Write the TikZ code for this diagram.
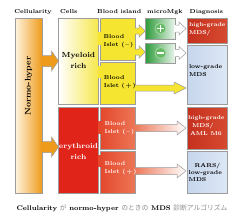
\documentclass[tikz,border=0pt]{standalone}
\usepackage{fontspec}
\newfontfamily\jpfont{Noto Sans CJK JP}
\usetikzlibrary{calc}
\definecolor{orng}{HTML}{EE9B1C}
\definecolor{orngL}{HTML}{FFF4E0}
\definecolor{ylw}{HTML}{F6E530}
\definecolor{ylwM}{HTML}{F6E84E}
\definecolor{redE}{HTML}{E0241A}
\definecolor{redI}{HTML}{E4482C}
\definecolor{redIL}{HTML}{EC7656}
\definecolor{grn}{HTML}{2E9B3A}
\definecolor{grnC}{HTML}{66BB66}
\definecolor{dred}{HTML}{C5301E}
\definecolor{dredL}{HTML}{D64A30}
\definecolor{lblue}{HTML}{C6D6EC}
\definecolor{lblueL}{HTML}{DDE7F5}
\definecolor{edge}{HTML}{9C9C9C}
\definecolor{capgray}{HTML}{8C8C8C}
\newcommand\barr[8]{%
  \coordinate (ba) at (#2.east |- 0,#4);
  \coordinate (bb) at ($(#3.west |- 0,#4)+(-#8,0)$);
  \path[#1] ($(ba)+(-1.2,-#5)$) -- ($(bb)+(-#7,-#5)$) -- ($(bb)+(-#7,-#6)$) -- (bb) -- ($(bb)+(-#7,#6)$) -- ($(bb)+(-#7,#5)$) -- ($(ba)+(-1.2,#5)$) -- cycle;
  \draw[arrline] ($(ba)+(0,-#5)$) -- ($(bb)+(-#7,-#5)$) -- ($(bb)+(-#7,-#6)$) -- (bb) -- ($(bb)+(-#7,#6)$) -- ($(bb)+(-#7,#5)$) -- ($(ba)+(0,#5)$);
}
\begin{document}
\begin{tikzpicture}[x=1bp,y=-1bp,
  box/.style={draw=edge, line width=0.5bp, inner sep=0, outer sep=0, anchor=north west, rectangle},
  arrline/.style={draw=edge, line width=0.5bp, line join=miter},
  lbl/.style={font=\fontsize{5.7}{8}\selectfont\bfseries, inner sep=0, align=left, anchor=west},
  hdr/.style={font=\fontsize{5.8}{7}\selectfont\bfseries, inner sep=0},
  big/.style={font=\fontsize{7.4}{11}\selectfont\bfseries, inner sep=0, align=center}]
\useasboundingbox (0,0) rectangle (244,221);
\fill[white] (0,0) rectangle (244,221);
% headers
\node[hdr] (h1) at (33,12) {Cellularity};
\node[hdr, anchor=west] (h2) at (60,12) {Cells};
\node[hdr, anchor=west] (h3) at (97,12) {Blood island};
\node[hdr, anchor=west] (h4) at (147,12) {microMgk};
\node[hdr, anchor=west] (h5) at (189.5,12) {Diagnosis};
% boxes
\node[box, left color=orngL, right color=orng, minimum width=27bp, minimum height=175bp] (bar) at (15,18) {};
\node[box, left color=white, right color=ylwM, minimum width=39.5bp, minimum height=86bp] (mye) at (58.5,18) {};
\node[box, fill=redE, minimum width=39.5bp, minimum height=86bp] (ery) at (58.5,107) {};
\node[box, fill=ylw, minimum width=34.5bp, minimum height=42bp] (yA) at (100.5,18) {};
\node[box, fill=ylw, minimum width=34.5bp, minimum height=42bp] (yB) at (100.5,62) {};
\node[box, left color=redI, right color=redIL, minimum width=34.5bp, minimum height=42bp] (rA) at (100.5,107) {};
\node[box, left color=redI, right color=redIL, minimum width=34.5bp, minimum height=42bp] (rB) at (100.5,151) {};
\node[box, left color=grn, middle color=grn!85!white, right color=white!92!grn, minimum width=30bp, minimum height=21bp] (gP) at (145.5,18) {};
\node[box, left color=grn, middle color=grn!85!white, right color=white!92!grn, minimum width=30bp, minimum height=20bp] (gM) at (145.5,43) {};
\node[box, left color=dred, right color=dredL, minimum width=40bp, minimum height=25bp] (dA) at (187,18) {};
\node[box, left color=lblue, right color=lblueL, minimum width=40bp, minimum height=59bp] (dB) at (187,45) {};
\node[box, left color=dred, right color=dredL, minimum width=40bp, minimum height=42bp] (dC) at (187,107) {};
\node[box, left color=lblue, right color=lblueL, minimum width=40bp, minimum height=42bp] (dD) at (187,151) {};
% joints between cells and islets
\fill[ylw] ($(mye.east |- 0,32)+(-0.5,0)$) rectangle ($(yA.west |- 0,45)+(0.5,0)$);
\fill[ylw] ($(mye.east |- 0,66)+(-0.5,0)$) rectangle ($(yB.west |- 0,78)+(0.5,0)$);
\fill[redI] ($(ery.east |- 0,121)+(-0.5,0)$) rectangle ($(rA.west |- 0,134)+(0.5,0)$);
\fill[redI] ($(ery.east |- 0,155)+(-0.5,0)$) rectangle ($(rB.west |- 0,167)+(0.5,0)$);
% block arrows
\barr{fill=orng}{bar}{mye}{61}{5.5}{10}{7}{0}
\barr{fill=orng}{bar}{ery}{147}{5.5}{10}{7}{0}
\barr{fill=ylw}{yA}{gP}{31}{3}{6}{6}{0.3}
\barr{fill=ylw}{yA}{gM}{52}{3}{6}{6}{0.3}
\barr{fill=ylw}{yB}{dB}{88}{3}{6}{12}{1}
\barr{fill=white}{gP}{dA}{28.5}{3.5}{6.5}{7}{1}
\barr{fill=white}{gM}{dB}{53}{3.5}{6.5}{7}{1}
\barr{left color=redIL, right color=white}{rA}{dC}{128}{3.5}{7}{9}{1}
\barr{left color=redIL, right color=white}{rB}{dD}{171}{3.5}{7}{9}{1}
% circles
\node[circle, fill=grnC, draw=grnC!55!white, line width=0.6bp, minimum size=11bp, inner sep=0] (cP) at (160.5,28.5) {};
\node[circle, fill=grnC, draw=grnC!55!white, line width=0.6bp, minimum size=11bp, inner sep=0] (cM) at (160.5,53) {};
\draw[white, line width=1.2bp] ($(cP)+(-3.3,0)$) -- ($(cP)+(3.3,0)$) ($(cP)+(0,-3.3)$) -- ($(cP)+(0,3.3)$);
\draw[white, line width=1.2bp] ($(cM)+(-3.3,0)$) -- ($(cM)+(3.3,0)$);
% texts
\node[big, rotate=90, font=\fontsize{8.2}{11}\selectfont\bfseries] (tbar) at (28.5,86) {Normo-hyper};
\node[big] (tmye) at (78.5,60.5) {Myeloid\\rich};
\node[big, text=white] (tery) at (78.5,151) {erythroid\\rich};
\node[lbl] (tyA) at (103.5,40.8) {Blood\\Islet (\,--\,)};
\node[lbl] (tyB) at (103.8,82) {Blood\\Islet (\,+\,)};
\node[lbl, text=white] (trA) at (104.5,128.5) {Blood\\Islet (\,--\,)};
\node[lbl, text=white] (trB) at (104.5,168.5) {Blood\\Islet (\,+\,)};
\node[lbl, text=white] (tdA) at (188.8,29.5) {high-grade\\MDS/};
\node[lbl] (tdB) at (188.8,71) {low-grade\\MDS};
\node[lbl, text=white] (tdC) at (187.8,126) {high-grade\\\hspace*{4bp}MDS/\\\hspace*{2bp}AML M6};
\node[lbl, font=\fontsize{5.7}{7}\selectfont\bfseries] (tdD) at (188.5,172) {\hspace*{6bp}RARS/\\low-grade\\MDS};
% caption
\node[font=\fontsize{6.8}{8}\selectfont, inner sep=0] (cap) at (122,208) {\textbf{Cellularity} {\jpfont\color{capgray}が} \textbf{normo-hyper} {\jpfont\color{capgray}のときの} \textbf{MDS} {\jpfont\color{capgray}診断アルゴリズム}};
\end{tikzpicture}
\end{document}
